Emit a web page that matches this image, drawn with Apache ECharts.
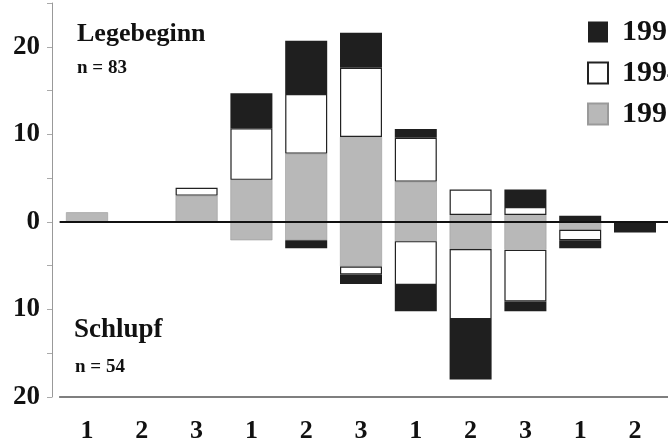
<!DOCTYPE html>
<html>
<head>
<meta charset="utf-8">
<script src="https://cdn.jsdelivr.net/npm/echarts@6/dist/echarts.min.js"></script>
<style>
html,body{margin:0;padding:0;background:#fff;}
#c{width:668px;height:447px;}
</style>
</head>
<body>
<div id="c"></div>
<script>
// Categories (groups of 1,2,3; the last one is cut off at the right edge)
const categories = ['1','2','3','1','2','3','1','2','3','1','2','3'];
const yTicks = [-20, -10, 0, 10, 20];

// Legebeginn (above zero), n = 83
const lege1993 = [1.1, null, 3.0, 4.8, 7.8, 9.7, 4.6, 0.8, 0.8, null, null, null];
const lege1994 = [null, null, 0.9, 5.9, 6.8, 7.9, 5.0, 2.9, 0.9, null, null, null];
const lege1995 = [null, null, null, 4.0, 6.1, 4.0, 1.0, null, 2.0, 0.7, null, null];

// Schlupf (below zero), n = 54
const schl1993 = [null, null, null, -2.1, -2.1, -5.1, -2.2, -3.1, -3.2, -0.9, null, null];
const schl1994 = [null, null, null, null, null, -0.9, -5.0, -8.0, -5.9, -1.2, null, null];
const schl1995 = [null, null, null, null, -0.9, -1.1, -3.0, -6.9, -1.1, -0.9, -1.2, null];

const FONT = '"Liberation Serif", "DejaVu Serif", serif';
const C95 = '#1f1f1f', C94 = '#ffffff', C93 = '#b8b8b8';

function style(name){
  if (name === '1995') return {color: C95, borderColor: '#1f1f1f', borderWidth: 0};
  if (name === '1994') return {color: C94, borderColor: '#222', borderWidth: 1.2};
  return {color: C93, borderColor: '#9a9a9a', borderWidth: 0.6};
}
function bar(name, data){
  return {name, type: 'bar', stack: 'all', data, barWidth: 42,
    itemStyle: style(name), emphasis: {disabled: true}};
}

const series = [
  bar('1993', lege1993), bar('1994', lege1994), bar('1995', lege1995),
  bar('1993', schl1993), bar('1994', schl1994), bar('1995', schl1995)
];
series[0].markLine = {
  silent: true, symbol: ['none','none'], label: {show: false},
  lineStyle: {color: '#111', width: 2, type: 'solid'},
  data: [{yAxis: 0}]
};

const chart = echarts.init(document.getElementById('c'));
chart.setOption({
  animation: false,
  backgroundColor: '#fff',
  title: [
    {text: 'Legebeginn', left: 77, top: 21, padding: 0,
     textStyle: {fontFamily: FONT, fontSize: 26, fontWeight: 'bold', color: '#111'}},
    {text: 'n = 83', left: 77, top: 59, padding: 0,
     textStyle: {fontFamily: FONT, fontSize: 19, fontWeight: 'bold', color: '#111'}},
    {text: 'Schlupf', left: 74, top: 317, padding: 0,
     textStyle: {fontFamily: FONT, fontSize: 27, fontWeight: 'bold', color: '#111'}},
    {text: 'n = 54', left: 75, top: 358, padding: 0,
     textStyle: {fontFamily: FONT, fontSize: 19, fontWeight: 'bold', color: '#111'}}
  ],
  legend: {
    data: ['1995', '1994', '1993'],
    orient: 'vertical', left: 587, top: 17, padding: 0,
    itemWidth: 20, itemHeight: 21, itemGap: 11, icon: 'rect',
    textStyle: {fontFamily: FONT, fontSize: 30, fontWeight: 'bold', color: '#111', lineHeight: 21, padding: [0,0,0,9]}
  },
  grid: {left: 59.6, width: 657.6, top: 3, bottom: 50, containLabel: false, outerBoundsMode: 'none'},
  xAxis: {
    type: 'category', data: categories,
    axisLine: {onZero: false, lineStyle: {color: '#555', width: 1.5}},
    axisTick: {alignWithLabel: true, length: 7, lineStyle: {color: '#bbb'}},
    axisLabel: {fontFamily: FONT, fontSize: 26, fontWeight: 'bold', color: '#111', margin: 21}
  },
  yAxis: {
    type: 'value', min: -20, max: 25, interval: 5, offset: 7.6,
    splitLine: {show: false},
    axisLine: {show: true, lineStyle: {color: '#999', width: 1}},
    axisTick: {show: true, length: 5, lineStyle: {color: '#aaa'}},
    axisLabel: {fontFamily: FONT, fontSize: 27, fontWeight: 'bold', color: '#111', margin: 12,
      formatter: v => yTicks.indexOf(v) >= 0 ? String(Math.abs(v)) : ''}
  },
  series
});
</script>
</body>
</html>
